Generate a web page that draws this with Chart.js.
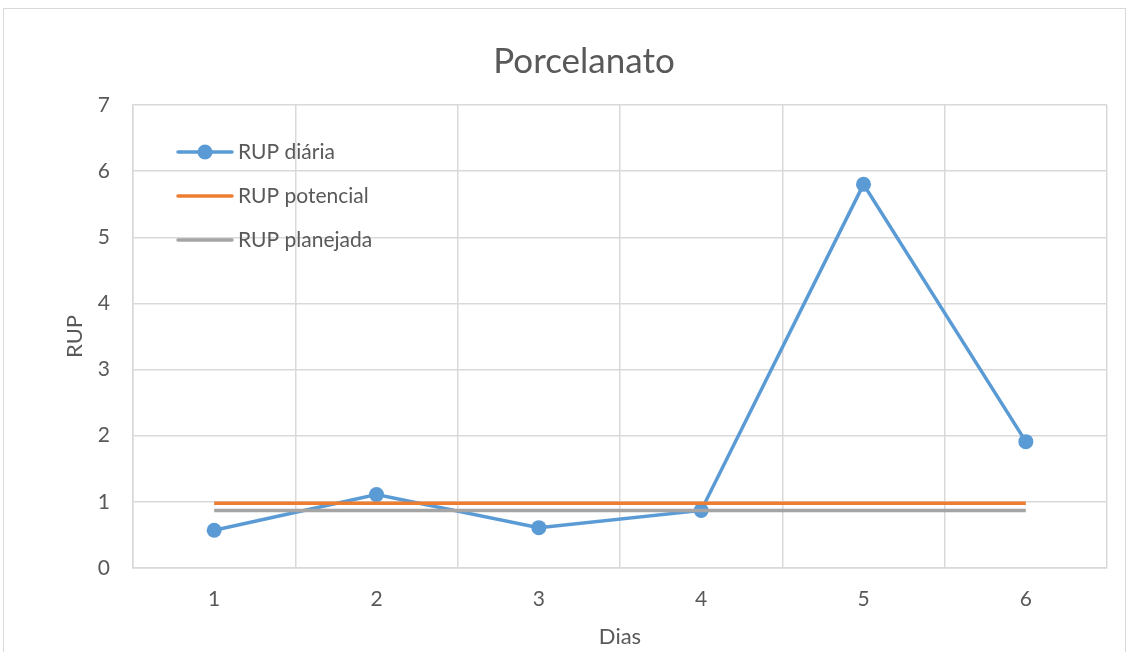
<!DOCTYPE html>
<html>
<head>
<meta charset="utf-8">
<script src="https://cdn.jsdelivr.net/npm/chart.js@4.4.1/dist/chart.umd.min.js"></script>
<style>
  html, body { margin: 0; padding: 0; background: #fff; overflow: hidden; }
  #frame { position: absolute; left: 3px; top: 8px; width: 1123px; height: 700px; border: 1px solid #d9d9d9; box-sizing: border-box; }
  #wrap { position: absolute; left: 0; top: 0; width: 1130px; height: 652px; }
</style>
</head>
<body>
<div id="frame"></div>
<div id="wrap"><canvas id="chart"></canvas></div>
<script>
const dias = ["1", "2", "3", "4", "5", "6"];
const rupDiaria = [0.57, 1.11, 0.61, 0.87, 5.8, 1.91];
const rupPotencial = [0.98, 0.98, 0.98, 0.98, 0.98, 0.98];
const rupPlanejada = [0.87, 0.87, 0.87, 0.87, 0.87, 0.87];
const yTicks = [0, 1, 2, 3, 4, 5, 6, 7];

const FONT = "Lato, 'Open Sans', sans-serif";
const TEXT = "#595959";
const GRID = "#d9d9d9";

// legend drawn inside the plot area, top-left, like Excel
const insideLegend = {
  id: "insideLegend",
  afterDraw(chart) {
    const ctx = chart.ctx;
    const x0 = 178, x1 = 232, y0 = 152, step = 44;
    ctx.save();
    chart.data.datasets.forEach((ds, i) => {
      const y = y0 + i * step;
      ctx.strokeStyle = ds.borderColor;
      ctx.lineWidth = ds.borderWidth;
      ctx.lineCap = "round";
      ctx.beginPath();
      ctx.moveTo(x0, y);
      ctx.lineTo(x1, y);
      ctx.stroke();
      if (ds.pointRadius > 0) {
        ctx.fillStyle = ds.borderColor;
        ctx.beginPath();
        ctx.arc((x0 + x1) / 2, y, ds.pointRadius, 0, Math.PI * 2);
        ctx.fill();
      }
      ctx.fillStyle = TEXT;
      ctx.font = "21px " + FONT;
      ctx.textBaseline = "middle";
      ctx.textAlign = "left";
      ctx.fillText(ds.label, x1 + 6, y);
    });
    ctx.restore();
  },
};

new Chart(document.getElementById("chart"), {
  type: "line",
  data: {
    labels: dias,
    datasets: [
      {
        label: "RUP diária",
        data: rupDiaria,
        borderColor: "#5b9bd5",
        backgroundColor: "#5b9bd5",
        borderWidth: 3.5,
        pointRadius: 7.5,
        pointHoverRadius: 7.5,
        pointBorderWidth: 0,
        tension: 0,
        order: 2,
      },
      {
        label: "RUP potencial",
        data: rupPotencial,
        borderColor: "#ed7d31",
        backgroundColor: "#ed7d31",
        borderWidth: 3.5,
        pointRadius: 0,
        order: 1,
      },
      {
        label: "RUP planejada",
        data: rupPlanejada,
        borderColor: "#a5a5a5",
        backgroundColor: "#a5a5a5",
        borderWidth: 3.5,
        pointRadius: 0,
        order: 0,
      },
    ],
  },
  options: {
    responsive: true,
    maintainAspectRatio: false,
    animation: false,
    layout: { padding: { left: 61, right: 23, top: 0, bottom: 0 } },
    plugins: {
      legend: { display: false },
      tooltip: { enabled: false },
      title: {
        display: true,
        text: "Porcelanato",
        color: TEXT,
        font: { family: FONT, size: 35, weight: "normal", lineHeight: 1.2 },
        padding: { top: 41, bottom: 22 },
      },
    },
    scales: {
      x: {
        offset: true,
        grid: { color: GRID, offset: true, drawTicks: false, lineWidth: 1.5 },
        border: { color: GRID, width: 1.5 },
        ticks: { color: TEXT, padding: 19, font: { family: FONT, size: 21 } },
        title: {
          display: true,
          text: "Dias",
          color: TEXT,
          font: { family: FONT, size: 22, lineHeight: 1.2 },
          padding: { top: 0, bottom: 2 },
        },
        afterFit(scale) { scale.height = 84; },
      },
      y: {
        min: 0,
        max: 7,
        afterBuildTicks(scale) { scale.ticks = yTicks.map((v) => ({ value: v })); },
        grid: { color: GRID, drawTicks: false, lineWidth: 1.5 },
        border: { color: GRID, width: 1.5 },
        ticks: { color: TEXT, padding: 23, font: { family: FONT, size: 21 } },
        title: {
          display: true,
          text: "RUP",
          color: TEXT,
          font: { family: FONT, size: 22, lineHeight: 1.2 },
          padding: { top: 1, bottom: 0 },
        },
        afterFit(scale) { scale.width = 72; },
      },
    },
  },
  plugins: [insideLegend],
});
</script>
</body>
</html>
